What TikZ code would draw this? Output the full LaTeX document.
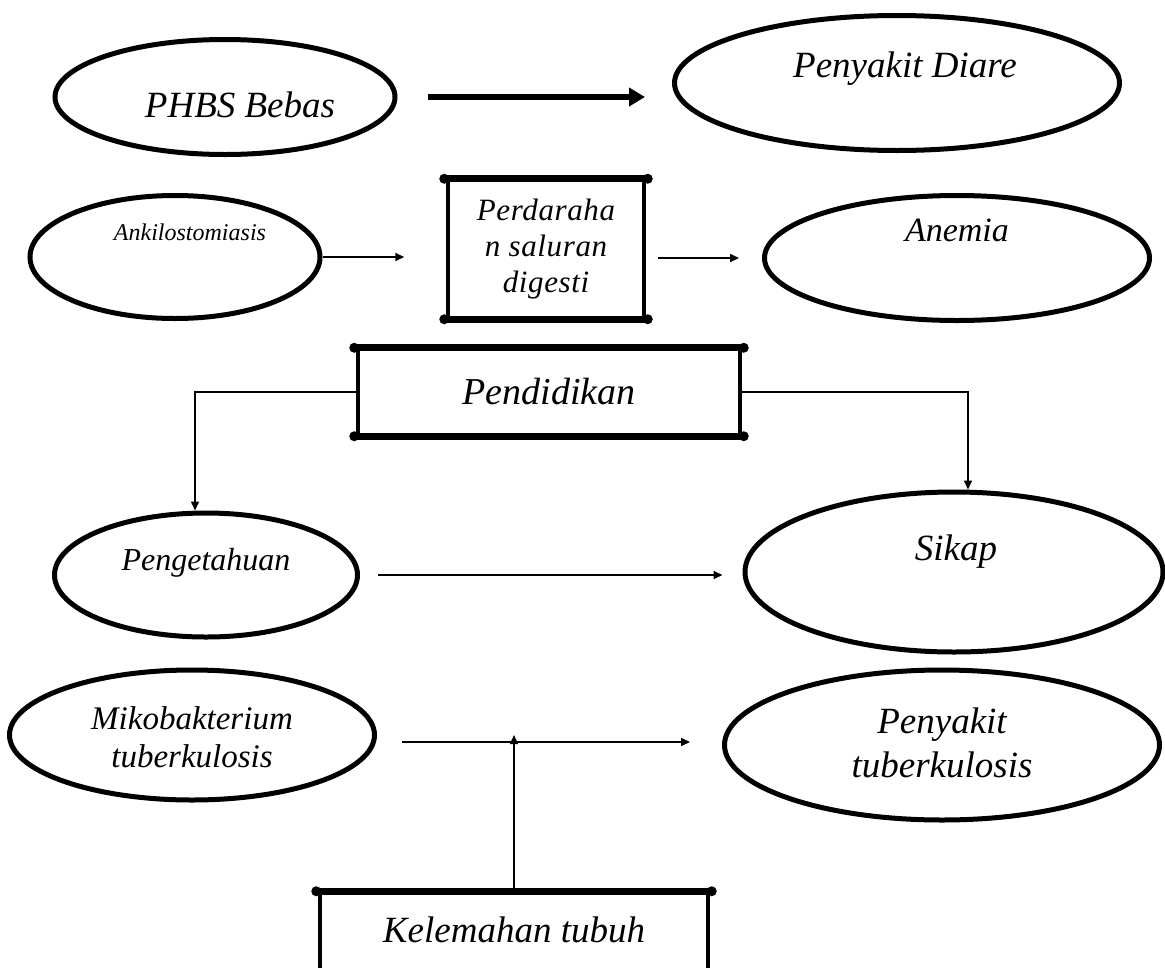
\documentclass[tikz,border=0pt]{standalone}
\usepackage{fontspec}
\setmainfont{Liberation Serif}
\usetikzlibrary{shapes.geometric,arrows.meta,positioning,calc}

\tikzset{
	oval/.style={ellipse, draw=black, line width=5pt, inner sep=0pt},
	tag/.style={font=\fontsize{37}{44}\selectfont\itshape},
	stepbox/.style={rectangle, draw=black, line width=3.5pt, inner sep=0pt, align=center,
		font=\fontsize{38}{44}\selectfont\itshape},
	link/.style={line width=1.6pt, -{Triangle[length=9pt,width=8pt]}},
	bigarrow/.style={line width=5.5pt, -{Triangle[length=16pt,width=18pt]}}
}
% heavy top/bottom rims with dotted ends
\newcommand{\rims}[2]{%
	\foreach \c/\d in {north west/north east,south west/south east}{
		\draw[line width=#2, line cap=round] ([xshift=-2pt]#1.\c) -- ([xshift=2pt]#1.\d);
		\fill ([xshift=-2pt]#1.\c) circle (5pt) ([xshift=2pt]#1.\d) circle (5pt);
	}}

\begin{document}
\begin{tikzpicture}[x=1pt,y=-1pt]
	\clip (0,0) rectangle (1165,967);
	\fill[white] (0,0) rectangle (1165,967);

	% first row
	\node[oval, minimum width=340pt, minimum height=115pt,
		label={[tag, xshift=15pt, yshift=-8pt]center:PHBS Bebas}] (phbs) at (225,97) {};
	\node[oval, minimum width=445pt, minimum height=135pt,
		label={[tag, xshift=8pt, yshift=14pt]center:Penyakit Diare}] (diare) at (897,83) {};

	% second row
	\node[oval, minimum width=290pt, minimum height=123pt,
		label={[font=\fontsize{24}{28}\selectfont\itshape, xshift=15pt, yshift=25pt]center:Ankilostomiasis}] (ankilo) at (175,257) {};
	\node[stepbox, minimum width=196pt, minimum height=137pt,
		font=\fontsize{31}{36}\selectfont\itshape] (darah) at (546,249)
		{\addfontfeature{LetterSpace=2}Perdaraha\\\addfontfeature{LetterSpace=2}n saluran\\\addfontfeature{LetterSpace=2}digesti};
	\rims{darah}{7pt}
	\node[oval, minimum width=385pt, minimum height=125pt,
		label={[tag, font=\fontsize{34}{40}\selectfont\itshape, yshift=28pt]center:Anemia}] (anemia) at (957,258) {};

	% pendidikan
	\node[stepbox, minimum width=382pt, minimum height=85pt] (didik) at (549,392) {Pendidikan};
	\rims{didik}{7pt}
	\node[oval, minimum width=303pt, minimum height=124pt,
		label={[tag, font=\fontsize{32}{38}\selectfont\itshape, yshift=12pt]center:Pengetahuan}] (tahu) at (206,575) {};
	\node[oval, minimum width=418pt, minimum height=160pt,
		label={[tag, xshift=2pt, yshift=20pt]center:Sikap}] (sikap) at (954,572) {};

	% tuberkulosis
	\node[oval, minimum width=365pt, minimum height=130pt,
		label={[tag, font=\fontsize{33}{38}\selectfont\itshape, align=center, yshift=-2pt]center:Mikobakterium\\tuberkulosis}] (miko) at (192,735) {};
	\node[oval, minimum width=435pt, minimum height=150pt,
		label={[tag, align=center, yshift=2pt]center:Penyakit\\tuberkulosis}] (tbc) at (942,745) {};
	\node[stepbox, minimum width=388pt, minimum height=110pt,
		label={[tag, yshift=18pt]center:Kelemahan tubuh}] (lemah) at (514,948) {};
	\draw[line width=7pt, line cap=round] ([xshift=-2pt]lemah.north west) -- ([xshift=2pt]lemah.north east);
	\fill ([xshift=-2pt]lemah.north west) circle (5pt) ([xshift=2pt]lemah.north east) circle (5pt);

	\coordinate (meet) at (lemah.north |- miko);

	% connectors
	\draw[bigarrow, shorten <=30pt, shorten >=27pt] (phbs.east) -- (phbs.east -| diare.west);
	\draw[link, shorten <=0pt, shorten >=42pt] (ankilo.east) -- (ankilo.east -| darah.west);
	\draw[link, shorten <=12pt, shorten >=23pt] ([yshift=-9pt]darah.east) -- ([yshift=-9pt]darah.east -| anemia.west);
	\draw[link] (didik.west) -| ([xshift=-11pt]tahu.north);
	\draw[link] (didik.east) -| ([xshift=14pt]sikap.north);
	\draw[link, shorten <=18pt, shorten >=20pt] (tahu.east) -- (tahu.east -| sikap.west);
	\draw[link, shorten <=25pt, shorten >=32pt] ([yshift=-7pt]miko.east) -- ([yshift=-7pt]miko.east -| tbc.west);
	\draw[link] (lemah.north) -- (meet);
\end{tikzpicture}
\end{document}
